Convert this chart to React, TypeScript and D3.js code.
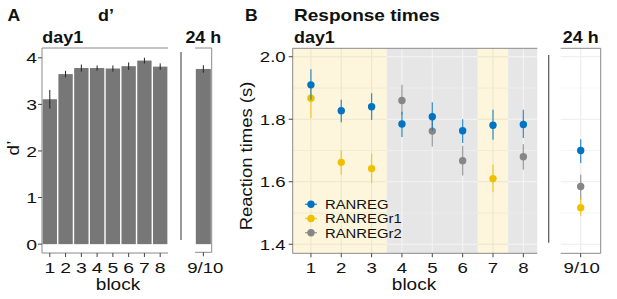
import React from "react";
import * as d3 from "d3";

// ---------- data ----------
const blocks = [1, 2, 3, 4, 5, 6, 7, 8];
const dprime = [3.11, 3.65, 3.78, 3.78, 3.77, 3.82, 3.94, 3.81];
const dprimeErr = [0.2, 0.07, 0.075, 0.055, 0.065, 0.08, 0.06, 0.07];
const dprime24 = 3.76;
const dprime24Err = 0.08;
const dTicks = [0, 1, 2, 3, 4];

const rtTicks = [1.4, 1.6, 1.8, 2.0];
const rtMinor = [1.5, 1.7, 1.9];

const seriesNames = ["RANREG", "RANREGr1", "RANREGr2"];
const seriesColors = ["#0073C2", "#EFC000", "#868686"];

const regBlocks = [1, 2, 3, 4, 5, 6, 7, 8];
const regMean = [1.91, 1.827, 1.84, 1.785, 1.808, 1.763, 1.781, 1.783];
const regLo = [1.862, 1.79, 1.798, 1.743, 1.764, 1.724, 1.734, 1.74];
const regHi = [1.96, 1.862, 1.883, 1.824, 1.854, 1.8, 1.83, 1.83];

const r1Blocks = [1, 2, 3, 7];
const r1Mean = [1.867, 1.662, 1.642, 1.61];
const r1Lo = [1.803, 1.622, 1.596, 1.566];
const r1Hi = [1.904, 1.7, 1.69, 1.655];

const r2Blocks = [4, 5, 6, 8];
const r2Mean = [1.86, 1.762, 1.667, 1.68];
const r2Lo = [1.814, 1.713, 1.62, 1.638];
const r2Hi = [1.91, 1.803, 1.715, 1.72];

const rt24Mean = [1.7, 1.517, 1.585];
const rt24Lo = [1.66, 1.49, 1.542];
const rt24Hi = [1.736, 1.548, 1.622];

// condition shading: block ranges
const regionStarts = [0.4, 3.5, 6.5, 7.5];
const regionEnds = [3.5, 6.5, 7.5, 8.46];
const regionKinds = ["r1", "r2", "r1", "r2"];

const FONT = "'Liberation Sans', Arial, Helvetica, sans-serif";

type TP = {
  x: number; y: number; size: number; anchor?: string; bold?: boolean;
  sx?: number; rot?: number; children: React.ReactNode; fill?: string;
};
const T = ({ x, y, size, anchor = "start", bold = false, sx = 1.12, rot = 0, children, fill = "#111" }: TP) => (
  <text
    transform={`translate(${x},${y}) rotate(${rot}) scale(${sx},1)`}
    textAnchor={anchor}
    fontFamily={FONT}
    fontSize={size}
    fontWeight={bold ? "bold" : "normal"}
    fill={fill}
  >
    {children}
  </text>
);

export default function App() {
  const W = 617, H = 299;
  const frame = "#8a8a8a";
  const tickCol = "#444";

  // ---- Panel A ----
  const aL = 42, aR = 168, aT = 48, aB = 253;
  const yA = d3.scaleLinear().domain([-0.19, 4.21]).range([aB, aT]);
  const xA = d3.scaleBand<number>().domain(blocks).range([aL, aR]).paddingInner(0.09).paddingOuter(0.04);
  const a24L = 195, a24R = 211.7;
  const xA24 = d3.scaleBand<string>().domain(["9/10"]).range([a24L, a24R]).paddingInner(0.1).paddingOuter(0.05);

  // ---- Panel B ----
  const bL = 292.7, bR = 537.3, bT = 48.3, bB = 253.3;
  const yB = d3.scaleLinear().domain([1.371, 2.027]).range([bB, bT]);
  const xB = d3.scaleLinear().domain([0.4, 8.46]).range([bL, bR]);
  const b24L = 560.7, b24R = 600.7;
  const xB24 = d3.scalePoint<string>().domain(["9/10"]).range([b24L, b24R]).padding(0.5);

  const series = [
    { b: regBlocks, m: regMean, lo: regLo, hi: regHi },
    { b: r1Blocks, m: r1Mean, lo: r1Lo, hi: r1Hi },
    { b: r2Blocks, m: r2Mean, lo: r2Lo, hi: r2Hi },
  ];
  const drawOrder = [2, 1, 0];

  const bgColor = (k: string) => (k === "r1" ? "#FDF6DC" : "#E6E6E6");
  const gridColor = (k: string) => (k === "r1" ? "#ECE6CC" : "#F4F4F4");

  return (
    <svg width={W} height={H} viewBox={`0 0 ${W} ${H}`} style={{ display: "block", position: "absolute", left: 0, top: 0, background: "#fff" }}>
      {/* ===== Panel A ===== */}
      <T x={7.5} y={21} size={16} bold sx={1.1}>A</T>
      <T x={106} y={21} size={16} bold anchor="middle">d’</T>
      <T x={42.3} y={43.3} size={16} bold>day1</T>
      <T x={203.3} y={43.3} size={16} bold anchor="middle">24 h</T>

      {/* bars */}
      {blocks.map((b, i) => (
        <rect key={b} x={xA(b)} y={yA(dprime[i])} width={xA.bandwidth()} height={yA(0) - yA(dprime[i])} fill="#777" />
      ))}
      {blocks.map((b, i) => (
        <line key={"e" + b} x1={xA(b)! + xA.bandwidth() / 2} x2={xA(b)! + xA.bandwidth() / 2}
          y1={yA(dprime[i] - dprimeErr[i])} y2={yA(dprime[i] + dprimeErr[i])} stroke="#222" strokeWidth={1} />
      ))}
      {/* frame A day1: top, left, bottom */}
      <line x1={aL} x2={aR} y1={aT} y2={aT} stroke={frame} />
      <line x1={aL} x2={aL} y1={aT} y2={aB} stroke={frame} />
      <line x1={aL} x2={aR} y1={aB} y2={aB} stroke={frame} />
      {dTicks.map((t) => (
        <g key={"yt" + t}>
          <line x1={aL - 4} x2={aL} y1={yA(t)} y2={yA(t)} stroke={tickCol} />
          <T x={aL - 5} y={yA(t) + 5.7} size={15.5} anchor="end" sx={1.25}>{t}</T>
        </g>
      ))}
      {blocks.map((b) => {
        const cx = xA(b)! + xA.bandwidth() / 2;
        return (
          <g key={"xt" + b}>
            <line x1={cx} x2={cx} y1={aB} y2={aB + 4} stroke={tickCol} />
            <T x={cx} y={272.7} size={15.5} anchor="middle" sx={1.25}>{b}</T>
          </g>
        );
      })}
      <T x={118} y={290} size={17} anchor="middle">block</T>
      <T x={19} y={148} size={17} anchor="middle" rot={-90}>d’</T>

      {/* separator A */}
      <line x1={181} x2={181} y1={52} y2={240} stroke="#555" strokeWidth={1.2} />

      {/* A 24h */}
      <rect x={xA24("9/10")} y={yA(dprime24)} width={xA24.bandwidth()} height={yA(0) - yA(dprime24)} fill="#777" />
      <line x1={xA24("9/10")! + xA24.bandwidth() / 2} x2={xA24("9/10")! + xA24.bandwidth() / 2}
        y1={yA(dprime24 - dprime24Err)} y2={yA(dprime24 + dprime24Err)} stroke="#222" />
      <line x1={a24L} x2={a24R} y1={aT} y2={aT} stroke={frame} />
      <line x1={a24R} x2={a24R} y1={aT} y2={aB - 0.7} stroke={frame} />
      <line x1={a24L} x2={a24R} y1={aB - 0.7} y2={aB - 0.7} stroke={frame} />
      <line x1={(a24L + a24R) / 2} x2={(a24L + a24R) / 2} y1={aB - 0.7} y2={aB + 3.3} stroke={tickCol} />
      <T x={(a24L + a24R) / 2 + 2} y={272.7} size={15.5} anchor="middle" sx={1.2}>9/10</T>

      {/* ===== Panel B ===== */}
      <T x={245} y={21} size={16} bold sx={1.1}>B</T>
      <T x={294} y={21} size={17} bold>Response times</T>
      <T x={294} y={43.3} size={16} bold>day1</T>
      <T x={580.7} y={43.3} size={16} bold anchor="middle">24 h</T>

      {/* backgrounds & grid per region */}
      {regionStarts.map((s, i) => {
        const e = regionEnds[i];
        const k = regionKinds[i];
        const x0 = xB(s), x1 = xB(e);
        const gc = gridColor(k);
        return (
          <g key={"reg" + i}>
            <rect x={x0} y={bT} width={x1 - x0} height={bB - bT} fill={bgColor(k)} />
            {rtMinor.map((t) => (
              <line key={"mn" + t} x1={x0} x2={x1} y1={yB(t)} y2={yB(t)} stroke={gc} strokeWidth={0.6} />
            ))}
            {rtTicks.map((t) => (
              <line key={"mj" + t} x1={x0} x2={x1} y1={yB(t)} y2={yB(t)} stroke={gc} strokeWidth={1.1} />
            ))}
            {blocks.filter((b) => b > s && b < e).map((b) => (
              <line key={"vx" + b} x1={xB(b)} x2={xB(b)} y1={bT} y2={bB} stroke={gc} strokeWidth={1.1} />
            ))}
          </g>
        );
      })}

      {/* error bars and points */}
      {drawOrder.map((si) => {
        const s = series[si];
        return (
          <g key={"s" + si}>
            {s.b.map((b, j) => (
              <line key={"eb" + b} x1={xB(b)} x2={xB(b)} y1={yB(s.lo[j])} y2={yB(s.hi[j])}
                stroke={seriesColors[si]} strokeWidth={1.3} strokeOpacity={0.75} />
            ))}
            {s.b.map((b, j) => (
              <circle key={"pt" + b} cx={xB(b)} cy={yB(s.m[j])} r={3.7} fill={seriesColors[si]} />
            ))}
          </g>
        );
      })}

      {/* frame B day1 */}
      <line x1={bL} x2={bR} y1={bT} y2={bT} stroke={frame} />
      <line x1={bL} x2={bL} y1={bT} y2={bB} stroke={frame} />
      <line x1={bL} x2={bR} y1={bB} y2={bB} stroke={frame} />
      {rtTicks.map((t) => (
        <g key={"byt" + t}>
          <line x1={bL - 4} x2={bL} y1={yB(t)} y2={yB(t)} stroke={tickCol} />
          <T x={bL - 7} y={yB(t) + 5.5} size={15.5} anchor="end" sx={1.2}>{t.toFixed(1)}</T>
        </g>
      ))}
      {blocks.map((b) => (
        <g key={"bxt" + b}>
          <line x1={xB(b)} x2={xB(b)} y1={bB} y2={bB + 4} stroke={tickCol} />
          <T x={xB(b)} y={272.7} size={15.5} anchor="middle" sx={1.2}>{b}</T>
        </g>
      ))}
      <T x={414} y={290} size={17} anchor="middle">block</T>
      <T x={252} y={156} size={16.5} anchor="middle" rot={-90}>Reaction times (s)</T>

      {/* legend */}
      {seriesNames.map((n, i) => {
        const ly = 204.3 + i * 14.2;
        return (
          <g key={"lg" + n}>
            <line x1={305} x2={317} y1={ly} y2={ly} stroke={seriesColors[i]} strokeWidth={1.3} strokeOpacity={0.8} />
            <circle cx={311} cy={ly} r={3.7} fill={seriesColors[i]} />
            <T x={325} y={ly + 4.8} size={13.5} sx={1.1}>{n}</T>
          </g>
        );
      })}

      {/* separator B */}
      <line x1={548.7} x2={548.7} y1={55} y2={242.7} stroke="#555" strokeWidth={1.2} />

      {/* B 24h panel */}
      <rect x={b24L} y={bT} width={b24R - b24L} height={bB - bT} fill="#fff" />
      {rtMinor.map((t) => (
        <line key={"m24" + t} x1={b24L} x2={b24R} y1={yB(t)} y2={yB(t)} stroke="#F0F0F0" strokeWidth={0.6} />
      ))}
      {rtTicks.map((t) => (
        <line key={"j24" + t} x1={b24L} x2={b24R} y1={yB(t)} y2={yB(t)} stroke="#EBEBEB" strokeWidth={1.1} />
      ))}
      <line x1={xB24("9/10")} x2={xB24("9/10")} y1={bT} y2={bB} stroke="#EBEBEB" strokeWidth={1.1} />
      {[0, 2, 1].map((si) => (
        <g key={"p24" + si}>
          <line x1={xB24("9/10")} x2={xB24("9/10")} y1={yB(rt24Lo[si])} y2={yB(rt24Hi[si])}
            stroke={seriesColors[si]} strokeWidth={1.3} strokeOpacity={0.75} />
          <circle cx={xB24("9/10")} cy={yB(rt24Mean[si])} r={3.7} fill={seriesColors[si]} />
        </g>
      ))}
      <line x1={b24L} x2={b24R} y1={bT} y2={bT} stroke={frame} />
      <line x1={b24R} x2={b24R} y1={bT} y2={bB} stroke={frame} />
      <line x1={b24L} x2={b24R} y1={bB} y2={bB} stroke={frame} />
      <line x1={xB24("9/10")} x2={xB24("9/10")} y1={bB} y2={bB + 4} stroke={tickCol} />
      <T x={xB24("9/10")! + 1} y={272.7} size={15.5} anchor="middle" sx={1.2}>9/10</T>
    </svg>
  );
}
